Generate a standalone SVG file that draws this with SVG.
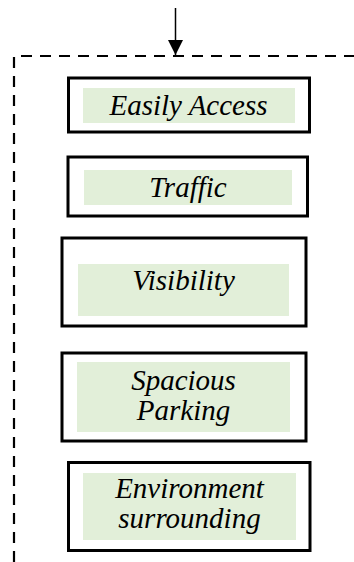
<svg xmlns="http://www.w3.org/2000/svg" width="354" height="562" viewBox="0 0 354 562">
<defs>
<style>
.box{fill:#ffffff;stroke:#000000;stroke-width:3}
.fill{fill:#e2efd9}
.lbl{font-style:italic;font-size:29px;fill:#000000;text-anchor:middle}
.dash{fill:none;stroke:#000000;stroke-width:2.2;stroke-dasharray:11 8}
</style>
<marker id="arr" viewBox="0 0 16 15" refX="15" refY="7.5" markerWidth="16" markerHeight="15" markerUnits="userSpaceOnUse" orient="auto">
<path d="M0,0 L15,7.5 L0,15 Z" fill="#000000"/>
</marker>
</defs>
<rect width="354" height="562" fill="#ffffff"/>
<g id="connectors">
<line x1="175.5" y1="8" x2="175.5" y2="55" stroke="#000000" stroke-width="1.5" marker-end="url(#arr)"/>
<polyline class="dash" points="14,562 14,56 354,56"/>
</g>
<g font-family="Liberation Serif, serif">
<g id="easily-access">
<rect class="box" x="68.5" y="78" width="241" height="54"/>
<rect class="fill" x="83" y="88" width="212" height="35"/>
<text class="lbl" x="188.5" y="115">Easily Access</text>
</g>
<g id="traffic">
<rect class="box" x="68" y="157" width="239.5" height="59"/>
<rect class="fill" x="84" y="170" width="208" height="35"/>
<text class="lbl" x="188" y="197">Traffic</text>
</g>
<g id="visibility">
<rect class="box" x="62" y="238" width="244" height="88"/>
<rect class="fill" x="78" y="264" width="211" height="52"/>
<text class="lbl" x="183.5" y="290">Visibility</text>
</g>
<g id="spacious-parking">
<rect class="box" x="62" y="353" width="244" height="88"/>
<rect class="fill" x="77" y="362" width="213" height="70"/>
<text class="lbl" x="183.5" y="390">Spacious</text>
<text class="lbl" x="183.5" y="420">Parking</text>
</g>
<g id="environment-surrounding">
<rect class="box" x="68.5" y="462.5" width="241.5" height="88"/>
<rect class="fill" x="83" y="473" width="213" height="67"/>
<text class="lbl" x="189.5" y="498">Environment</text>
<text class="lbl" x="189.5" y="528">surrounding</text>
</g>
</g>
</svg>
